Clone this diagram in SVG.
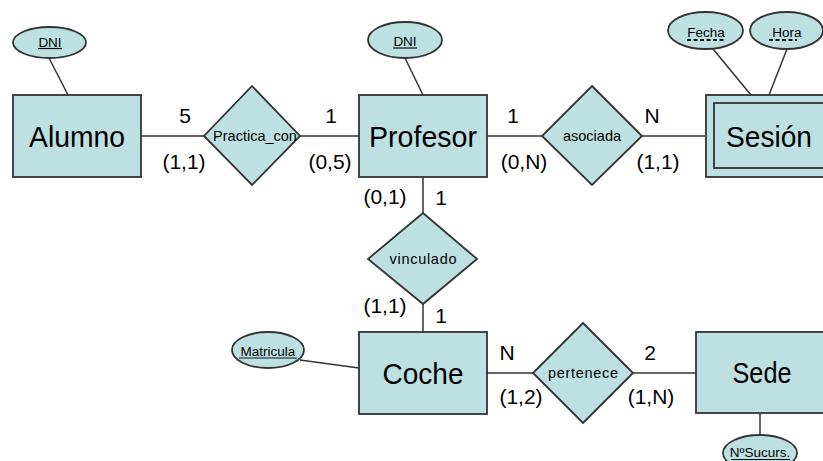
<svg xmlns="http://www.w3.org/2000/svg" width="823" height="461" viewBox="0 0 823 461">
  <style>
    .shape { fill: #bde0e3; stroke: #333; stroke-width: 1.8; }
    .link { stroke: #333; stroke-width: 1.5; fill: none; }
    .ul { stroke: #111; stroke-width: 1.2; }
    .dash { stroke: #111; stroke-width: 2; stroke-dasharray: 4 2.5; }
    text { font-family: "Liberation Sans", Arial, sans-serif; fill: #000; text-anchor: middle; }
    .ent { font-size: 30px; }
    .rel { font-size: 14.5px; }
    .att { font-size: 13.5px; }
    .card { font-size: 21px; }
  </style>
  <rect width="823" height="461" fill="#fff"/>

  <!-- connectors -->
  <g id="connectors">
    <line class="link" x1="49" y1="58" x2="68" y2="95"/>
    <line class="link" x1="405" y1="58" x2="423" y2="95"/>
    <line class="link" x1="713" y1="49" x2="751" y2="95"/>
    <line class="link" x1="787" y1="49" x2="769" y2="95"/>
    <line class="link" x1="141" y1="136" x2="204" y2="136"/>
    <line class="link" x1="300" y1="136" x2="359" y2="136"/>
    <line class="link" x1="487" y1="136" x2="542" y2="136"/>
    <line class="link" x1="642" y1="136" x2="706" y2="136"/>
    <line class="link" x1="423" y1="177" x2="423" y2="213"/>
    <line class="link" x1="423" y1="304" x2="423" y2="332"/>
    <line class="link" x1="300" y1="360" x2="359" y2="368"/>
    <line class="link" x1="487" y1="373" x2="533" y2="373"/>
    <line class="link" x1="633" y1="373" x2="696" y2="373"/>
    <line class="link" x1="760" y1="413" x2="760" y2="435"/>
  </g>

  <!-- cardinality labels -->
  <g id="cardinalities">
    <text class="card" x="185" y="123">5</text>
    <text class="card" x="184" y="169">(1,1)</text>
    <text class="card" x="331" y="123">1</text>
    <text class="card" x="330" y="169">(0,5)</text>
    <text class="card" x="513" y="123">1</text>
    <text class="card" x="524" y="169">(0,N)</text>
    <text class="card" x="652" y="123">N</text>
    <text class="card" x="658" y="169">(1,1)</text>
    <text class="card" x="385" y="204">(0,1)</text>
    <text class="card" x="441" y="205">1</text>
    <text class="card" x="385" y="313">(1,1)</text>
    <text class="card" x="441" y="323">1</text>
    <text class="card" x="507" y="360">N</text>
    <text class="card" x="521" y="404">(1,2)</text>
    <text class="card" x="650" y="360">2</text>
    <text class="card" x="651" y="404">(1,N)</text>
  </g>

  <!-- entities -->
  <g id="alumno">
    <rect class="shape" x="13" y="95" width="128" height="82"/>
    <text class="ent" x="77" y="147" textLength="96" lengthAdjust="spacingAndGlyphs">Alumno</text>
  </g>
  <g id="profesor">
    <rect class="shape" x="359" y="95" width="128" height="82"/>
    <text class="ent" x="423" y="147" textLength="108" lengthAdjust="spacingAndGlyphs">Profesor</text>
  </g>
  <g id="sesion">
    <rect class="shape" x="706" y="95" width="128" height="82"/>
    <rect class="shape" x="714" y="103" width="112" height="65"/>
    <text class="ent" x="769" y="147" textLength="86" lengthAdjust="spacingAndGlyphs">Sesión</text>
  </g>
  <g id="coche">
    <rect class="shape" x="359" y="332" width="128" height="82"/>
    <text class="ent" x="423" y="384" textLength="81" lengthAdjust="spacingAndGlyphs">Coche</text>
  </g>
  <g id="sede">
    <rect class="shape" x="696" y="332" width="128" height="81"/>
    <text class="ent" x="762" y="383" textLength="59" lengthAdjust="spacingAndGlyphs">Sede</text>
  </g>

  <!-- relationships -->
  <g id="practica_con">
    <polygon class="shape" points="252,86 300,136 252,185 204,136"/>
    <text class="rel" x="255" y="141">Practica_con</text>
  </g>
  <g id="asociada">
    <polygon class="shape" points="592,86 642,136 592,185 542,136"/>
    <text class="rel" x="592" y="141">asociada</text>
  </g>
  <g id="vinculado">
    <polygon class="shape" points="423,213 477,259 423,304 368,259"/>
    <text class="rel" x="423" y="264" textLength="67">vinculado</text>
  </g>
  <g id="pertenece">
    <polygon class="shape" points="583,323 633,373 583,423 533,373"/>
    <text class="rel" x="583" y="378" textLength="70">pertenece</text>
  </g>

  <!-- attributes -->
  <g id="alumno-dni">
    <ellipse class="shape" cx="49.5" cy="42.5" rx="36.5" ry="15.5"/>
    <text class="att" x="50" y="47">DNI</text>
    <line class="ul" x1="38" y1="48.5" x2="62" y2="48.5"/>
  </g>
  <g id="profesor-dni">
    <ellipse class="shape" cx="405" cy="40" rx="37" ry="18"/>
    <text class="att" x="405" y="46">DNI</text>
    <line class="ul" x1="393" y1="48" x2="417" y2="48"/>
  </g>
  <g id="sesion-fecha">
    <ellipse class="shape" cx="705.5" cy="30.5" rx="37.5" ry="18.5"/>
    <text class="att" x="706" y="37">Fecha</text>
    <line class="dash" x1="687" y1="40" x2="725" y2="40"/>
  </g>
  <g id="sesion-hora">
    <ellipse class="shape" cx="786.5" cy="30.5" rx="36.5" ry="18.5"/>
    <text class="att" x="787" y="37">Hora</text>
    <line class="dash" x1="769" y1="40" x2="797" y2="40"/>
  </g>
  <g id="coche-matricula">
    <ellipse class="shape" cx="268" cy="350" rx="36" ry="18"/>
    <text class="att" x="268" y="356">Matricula</text>
    <line class="ul" x1="239" y1="358" x2="297" y2="358"/>
  </g>
  <g id="sede-nsucurs">
    <ellipse class="shape" cx="760" cy="453" rx="37" ry="18"/>
    <text class="att" x="760" y="457">NºSucurs.</text>
    <line class="ul" x1="731" y1="459.5" x2="790" y2="459.5"/>
  </g>
</svg>
